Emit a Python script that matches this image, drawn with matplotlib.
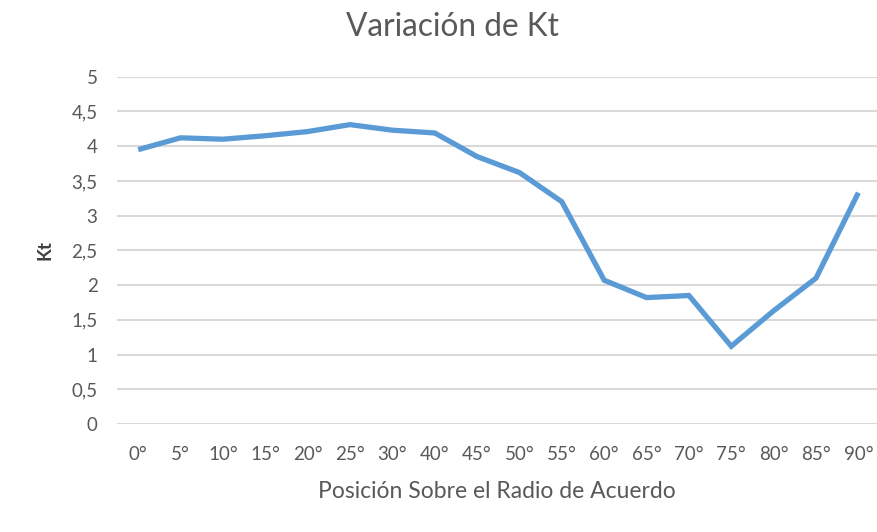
import matplotlib
matplotlib.use('Agg')
import matplotlib.pyplot as plt

# data (note: no 35 deg point in the source)
angles = ['0°', '5°', '10°', '15°', '20°', '25°', '30°', '40°', '45°',
          '50°', '55°', '60°', '65°', '70°', '75°', '80°', '85°', '90°']
kt = [3.95, 4.12, 4.10, 4.15, 4.21, 4.31, 4.23, 4.19, 3.85,
      3.62, 3.20, 2.07, 1.82, 1.85, 1.12, 1.63, 2.10, 3.33]
y_ticks = [0, 0.5, 1, 1.5, 2, 2.5, 3, 3.5, 4, 4.5, 5]
y_labels = ['0', '0,5', '1', '1,5', '2', '2,5', '3', '3,5', '4', '4,5', '5']

plt.rcParams['font.family'] = ['Lato', 'DejaVu Sans']
text_col = '#595959'

fig = plt.figure(figsize=(8.77, 5.32), dpi=100)
ax = fig.add_axes([117/877, 1 - 424/532, 1 - 117/877, (424 - 76.7)/532])

x = list(range(len(angles)))
ax.plot(x, kt, color='#5B9BD5', linewidth=3.8, solid_capstyle='butt',
        solid_joinstyle='miter', zorder=3)

ax.set_xlim(-0.5, 17.44)
ax.set_ylim(0, 5)
ax.set_xticks(x)
ax.set_xticklabels(angles)
ax.set_yticks(y_ticks)
ax.set_yticklabels(y_labels)
ax.tick_params(length=0, labelsize=13.5, colors=text_col)
ax.tick_params(axis='x', pad=16)
ax.tick_params(axis='y', pad=14)

ax.yaxis.grid(True, color='#D9D9D9', linewidth=1.5)
ax.set_axisbelow(True)
for s in ax.spines.values():
    s.set_visible(False)

ax.set_ylabel('Kt', fontsize=13.5, color='#404040', fontweight='bold', labelpad=13)
ax.set_xlabel('Posición Sobre el Radio de Acuerdo', fontsize=16.5, color=text_col, labelpad=13)
fig.text(452/877, 1 - 27/532, 'Variación de Kt', fontsize=22.8, color=text_col,
         ha='center', va='center')

fig.savefig('out.png', dpi=100)
